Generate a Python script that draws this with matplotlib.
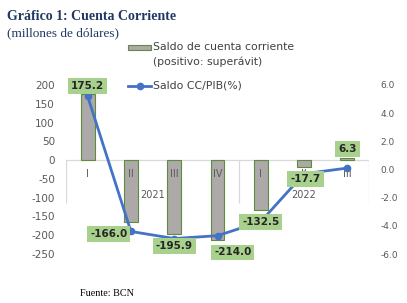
import matplotlib.pyplot as plt
from matplotlib.patches import Rectangle
from matplotlib.lines import Line2D

plt.rcParams["axes.unicode_minus"] = False

# datos
quarters = ["I", "II", "III", "IV", "I", "II", "III"]
years = ["2021", "2022"]
year_spans = [(0, 3), (4, 6)]
saldo_cc = [175.2, -166.0, -195.9, -214.0, -132.5, -17.7, 6.3]
cc_pib = [5.2, -4.4, -4.9, -4.7, -3.7, -0.3, 0.1]

# desplazamiento de las etiquetas (puntos)
label_dx = [0, -16, 0, 11, 0, 1, 0]

bar_face = "#AEA9A9"
bar_edge = "#5E8C3E"
label_bg = "#A9D18E"
line_col = "#4472C4"
tick_col = "#595959"
title_col = "#203864"

fig = plt.figure(figsize=(4.07, 3.03), dpi=100)
ax = fig.add_axes([66/407, 1 - 254/303, 303/407, 169/303])
x = list(range(len(quarters)))

ax.bar(x, saldo_cc, width=0.32, color=bar_face, edgecolor=bar_edge, linewidth=0.8, zorder=2)
ax.set_xlim(-0.5, 6.5)
ax.set_ylim(-250, 200)
ax.set_yticks(range(-250, 201, 50))
ax.set_xticks([])
ax.tick_params(axis="y", length=0, pad=8, labelsize=7.5, labelcolor=tick_col)
for s in ax.spines.values():
    s.set_visible(False)

# eje de categorias (estilo excel)
ax.axhline(0, color="#D9D9D9", lw=0.9, zorder=1)
ax.vlines([-0.5, 3.5, 6.5], -115, 0, color="#D9D9D9", lw=0.9, zorder=1)
for i, q in enumerate(quarters):
    ax.text(i, -37, q, ha="center", va="center", fontsize=7, color=tick_col, zorder=3)
for yr, (a, b) in zip(years, year_spans):
    ax.text((a + b) / 2, -93, yr, ha="center", va="center", fontsize=7, color=tick_col)

ax2 = ax.twinx()
ax2.plot(x, cc_pib, color=line_col, lw=2, marker="o", ms=4.5, zorder=3)
ax2.set_ylim(-6, 6)
ax2.set_yticks(range(-6, 7, 2))
ax2.set_yticklabels(["%.1f" % v for v in range(-6, 7, 2)])
ax2.tick_params(axis="y", length=0, pad=8, labelsize=6.5, labelcolor=tick_col)
for s in ax2.spines.values():
    s.set_visible(False)

# etiquetas de datos
for i, v in enumerate(saldo_cc):
    dy = 6 if v > 0 else -8.6
    ax2.annotate("%.1f" % v, xy=(i, v), xycoords=ax.transData,
                 xytext=(label_dx[i], dy), textcoords="offset points",
                 ha="center", va="center", fontsize=7.5, fontweight="bold", color="#262626",
                 bbox=dict(boxstyle="square,pad=0.28", fc=label_bg, ec="none"), zorder=5)

# titulo
fig.text(7/407, 1 - 17/303, "Gráfico 1: Cuenta Corriente", fontsize=10, fontweight="bold",
         family="Liberation Serif", color=title_col, va="center")
fig.text(7/407, 1 - 33/303, "(millones de dólares)", fontsize=9.5,
         family="Liberation Serif", color=title_col, va="center")
fig.text(80/407, 1 - 293/303, "Fuente: BCN", fontsize=7.3, family="Liberation Serif", va="center")

# leyenda
fig.add_artist(Rectangle((128/407, 1 - 50/303), 23/407, 5/303, transform=fig.transFigure,
                         facecolor=bar_face, edgecolor=bar_edge, lw=0.8))
fig.text(153/407, 1 - 47/303, "Saldo de cuenta corriente", fontsize=7.8, color="#404040", va="center")
fig.text(153/407, 1 - 62/303, "(positivo: superávit)", fontsize=7.8, color="#404040", va="center")
fig.add_artist(Line2D([128/407, 151/407], [1 - 86/303, 1 - 86/303], transform=fig.transFigure,
                      color=line_col, lw=2))
fig.add_artist(Line2D([139.5/407], [1 - 86/303], transform=fig.transFigure,
                      color=line_col, marker="o", ms=4.5, ls="none"))
fig.text(153/407, 1 - 86/303, "Saldo CC/PIB(%)", fontsize=7.8, color="#404040", va="center")

fig.savefig("out.png", dpi=100)
